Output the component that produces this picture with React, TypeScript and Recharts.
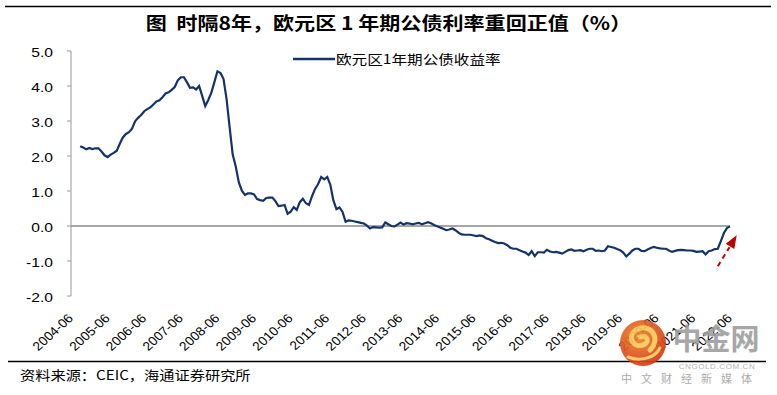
import React from 'react';
import { LineChart, Line, XAxis, YAxis, ReferenceLine, Legend } from 'recharts';

// Monthly categories 2004-06 .. 2022-06
const START_YEAR = 2004;
const START_MONTH = 6;
const MONTH_COUNT = 217;
const months: string[] = Array.from({ length: MONTH_COUNT }, (_, i) => {
  const m = START_MONTH - 1 + i;
  const y = START_YEAR + Math.floor(m / 12);
  const mm = (m % 12) + 1;
  return `${y}-${String(mm).padStart(2, '0')}`;
});

const firstDataMonth = '2004-09';

// 欧元区1年期公债收益率 (%), monthly from 2004-09 to 2022-06
const yield1Y: number[] = [
  2.28, 2.24, 2.19, 2.23,
  2.20, 2.22, 2.22, 2.13, 2.02, 1.97, 2.04, 2.09, 2.15, 2.35, 2.53, 2.63,
  2.68, 2.78, 2.99, 3.09, 3.17, 3.28, 3.34, 3.39, 3.47, 3.56, 3.59, 3.68,
  3.79, 3.82, 3.89, 3.97, 4.16, 4.25, 4.25, 4.11, 3.95, 3.96, 3.90, 4.00,
  3.72, 3.43, 3.60, 3.81, 4.11, 4.42, 4.37, 4.20, 3.62, 2.82, 2.04, 1.70,
  1.25, 1.01, 0.89, 0.93, 0.93, 0.90, 0.77, 0.74, 0.72, 0.80, 0.81, 0.81,
  0.71, 0.57, 0.58, 0.60, 0.35, 0.41, 0.54, 0.46, 0.68, 0.78, 0.65, 0.60,
  0.85, 1.06, 1.20, 1.40, 1.33, 1.40, 1.18, 0.73, 0.48, 0.53, 0.40, 0.12,
  0.16, 0.15, 0.13, 0.11, 0.09, 0.07, 0.01, -0.07, -0.03, -0.04, -0.05, -0.04,
  0.10, 0.05, 0.00, -0.01, 0.04, 0.10, 0.04, 0.08, 0.07, 0.05, 0.07, 0.09,
  0.05, 0.08, 0.11, 0.08, 0.03, -0.01, -0.04, -0.08, -0.12, -0.10, -0.07, -0.12,
  -0.19, -0.24, -0.25, -0.25, -0.25, -0.27, -0.29, -0.27, -0.29, -0.35, -0.38, -0.42,
  -0.46, -0.49, -0.48, -0.50, -0.55, -0.62, -0.65, -0.65, -0.69, -0.73, -0.76, -0.83,
  -0.72, -0.86, -0.75, -0.75, -0.76, -0.68, -0.73, -0.75, -0.74, -0.76, -0.79, -0.74,
  -0.69, -0.67, -0.71, -0.70, -0.69, -0.72, -0.68, -0.65, -0.65, -0.71, -0.70, -0.72,
  -0.70, -0.58, -0.60, -0.62, -0.66, -0.69, -0.76, -0.87, -0.79, -0.70, -0.65, -0.65,
  -0.71, -0.72, -0.67, -0.63, -0.60, -0.62, -0.64, -0.65, -0.65, -0.70, -0.74, -0.71,
  -0.69, -0.68, -0.69, -0.70, -0.70, -0.71, -0.74, -0.73, -0.72, -0.81, -0.72, -0.70,
  -0.66, -0.65, -0.43, -0.20, -0.06, -0.01,
];

const xTickLabels: string[] = [
  '2004-06', '2005-06', '2006-06', '2007-06', '2008-06', '2009-06', '2010-06',
  '2011-06', '2012-06', '2013-06', '2014-06', '2015-06', '2016-06', '2017-06',
  '2018-06', '2019-06', '2020-06', '2021-06', '2022-06',
];
const yTicks: number[] = [-2, -1, 0, 1, 2, 3, 4, 5];

// annotation arrow (start, end) in data coordinates
const arrowStart = { x: '2022-02', y: -1.15 };
const arrowEnd = { x: '2022-06', y: -0.58 };

const seriesName = '欧元区1年期公债收益率';
const titleText = '图  时隔8年，欧元区 1 年期公债利率重回正值（%）';
const sourceText = '资料来源：CEIC，海通证券研究所';

const LINE_COLOR = '#15336B';
const LATIN = '"Liberation Sans", Arial, sans-serif';
const CJK = '"Noto Sans CJK SC", "Liberation Sans", sans-serif';

const XTick = (props: any) => {
  const { x, y, payload } = props;
  return (
    <text
      transform={`translate(${x + 3},${y + 15}) scale(1.1,1) rotate(-45)`}
      textAnchor="end"
      fontSize={12.5}
      fontFamily={LATIN}
      fill="#000"
    >
      {payload.value}
    </text>
  );
};

const YTick = (props: any) => {
  const { x, y, payload } = props;
  return (
    <text
      transform={`translate(${x},${y}) scale(1.25,1)`}
      textAnchor="end"
      dy="0.5em"
      fontSize={12.5}
      fontFamily={LATIN}
      fill="#000"
    >
      {Number(payload.value).toFixed(1)}
    </text>
  );
};

const ArrowShape = (p: any) => {
  const { x1, y1, x2, y2 } = p;
  const dx = x2 - x1;
  const dy = y2 - y1;
  const len = Math.hypot(dx, dy) || 1;
  const ux = dx / len;
  const uy = dy / len;
  const nx = -uy;
  const ny = ux;
  const tx = x1 + dx * 1.55;
  const ty = y1 + dy * 1.55;
  const hw = 5;
  return (
    <g>
      <line x1={x1} y1={y1} x2={x2 - ux * 1} y2={y2 - uy * 1} stroke="#C00000" strokeWidth={2} strokeDasharray="5 4" />
      <polygon
        points={`${tx},${ty} ${x2 + nx * hw},${y2 + ny * hw} ${x2 - nx * hw},${y2 - ny * hw}`}
        fill="#C00000"
      />
    </g>
  );
};

const LegendContent = () => (
  <div style={{ display: 'flex', alignItems: 'center', whiteSpace: 'nowrap' }}>
    <svg width={42} height={6} style={{ display: 'block' }}>
      <line x1={0} y1={3} x2={42} y2={3} stroke={LINE_COLOR} strokeWidth={2.4} />
    </svg>
    <span
      style={{
        display: 'inline-block',
        marginLeft: 1,
        fontSize: 13,
        lineHeight: '17px',
        fontFamily: CJK,
        color: '#000',
        transform: 'scaleX(1.2)',
        transformOrigin: 'left center',
      }}
    >
      {seriesName}
    </span>
  </div>
);

export default function App() {
  const offset = months.indexOf(firstDataMonth);
  const data = months.map((m, i) => ({
    month: m,
    value: i >= offset && i - offset < yield1Y.length ? yield1Y[i - offset] : null,
  }));

  return (
    <div
      style={{
        position: 'absolute',
        left: 0,
        top: 0,
        width: 777,
        height: 395,
        background: '#fff',
        overflow: 'hidden',
      }}
    >
      <div
        style={{
          position: 'absolute',
          left: 0,
          top: 13,
          width: 777,
          textAlign: 'center',
          fontFamily: CJK,
          fontWeight: 700,
          fontSize: 18,
          lineHeight: '18px',
          color: '#000',
          whiteSpace: 'pre',
          transform: 'scaleX(1.17)',
          transformOrigin: 'center',
        }}
      >
        {titleText}
      </div>

      <div style={{ position: 'absolute', left: 0, top: 0 }}>
        <LineChart
          width={777}
          height={395}
          data={data}
          margin={{ top: 51, right: 47, bottom: 69, left: 11 }}
        >
          <XAxis
            dataKey="month"
            ticks={xTickLabels}
            interval={0}
            axisLine={false}
            tickLine={false}
            height={30}
            tick={<XTick />}
          />
          <YAxis
            domain={[-2, 5]}
            ticks={yTicks}
            interval={0}
            width={60}
            axisLine={{ stroke: '#999', strokeWidth: 1 }}
            tickLine={{ stroke: '#999', strokeWidth: 1 }}
            tickSize={4}
            tickMargin={14}
            tick={<YTick />}
          />
          <ReferenceLine y={0} stroke="#A6A6A6" strokeWidth={2} />
          <Line
            type="linear"
            dataKey="value"
            name={seriesName}
            stroke={LINE_COLOR}
            strokeWidth={2.2}
            dot={false}
            activeDot={false}
            isAnimationActive={false}
          />
          <ReferenceLine
            segment={[arrowStart, arrowEnd]}
            ifOverflow="visible"
            shape={ArrowShape}
          />
          <Legend
            layout="vertical"
            align="center"
            verticalAlign="middle"
            content={<LegendContent />}
            wrapperStyle={{ top: 50, left: 293, width: 260 }}
          />
        </LineChart>
      </div>

      <svg width={777} height={395} style={{ position: 'absolute', left: 0, top: 0, pointerEvents: 'none' }}>
        <defs>
          <radialGradient id="wmGrad" cx="40%" cy="35%" r="70%">
            <stop offset="0%" stopColor="#F08A2A" />
            <stop offset="100%" stopColor="#D2361A" />
          </radialGradient>
        </defs>
        <line x1={5} y1={6.5} x2={771} y2={6.5} stroke="#000" strokeWidth={1.3} />
        <line x1={8} y1={361.5} x2={766} y2={361.5} stroke="#000" strokeWidth={1.3} />
        <g opacity={0.92}>
          <circle cx={643} cy={343} r={23} fill="url(#wmGrad)" />
          <path
            d="M 650 350 C 662 338, 650 322, 636 330 C 626 337, 634 350, 645 344 C 650 341, 646 334, 640 337"
            fill="none"
            stroke="#F7C85A"
            strokeWidth={5}
            strokeLinecap="round"
          />
          <path d="M 628 357 C 640 362, 655 358, 660 348" fill="none" stroke="#F7C85A" strokeWidth={3} strokeLinecap="round" />
        </g>
        <text x={716} y={350} textAnchor="middle" fontSize={29} fontWeight={700} fontFamily={CJK} fill="#9E9E9E" opacity={0.9}>
          中金网
        </text>
        <text x={717} y={369} textAnchor="middle" fontSize={8} fontFamily={LATIN} fill="#B5B5B5" letterSpacing={0.6}>
          CNGOLD.COM.CN
        </text>
        <text x={691} y={383} textAnchor="middle" fontSize={11} fontFamily={CJK} fill="#ABABAB" letterSpacing={9}>
          中文财经新媒体
        </text>
      </svg>

      <div
        style={{
          position: 'absolute',
          left: 20,
          top: 367,
          fontFamily: CJK,
          fontSize: 13,
          lineHeight: '16px',
          color: '#000',
          whiteSpace: 'pre',
          transform: 'scaleX(1.17)',
          transformOrigin: 'left center',
        }}
      >
        {sourceText}
      </div>
    </div>
  );
}
